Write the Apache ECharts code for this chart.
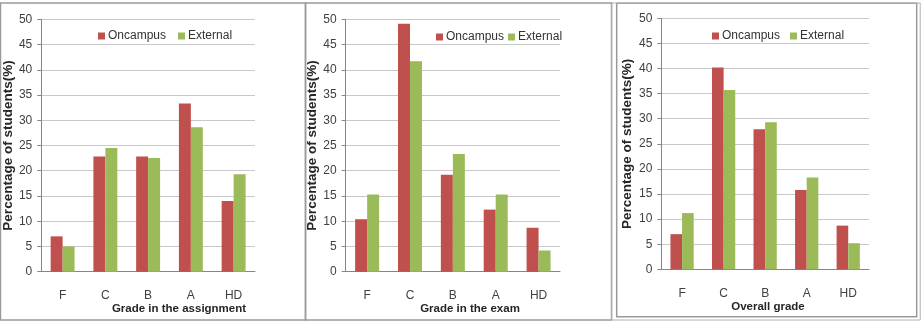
<!DOCTYPE html>
<html>
<head>
<meta charset="utf-8">
<script src="https://cdn.jsdelivr.net/npm/echarts@6/dist/echarts.min.js"></script>
<style>
    html, body { margin: 0; padding: 0; background: #fff; }
    #chart { width: 924px; height: 322px; }
</style>
</head>
<body>
<div id="chart"></div>
<script>
// categories and values
const categories = ['F', 'C', 'B', 'A', 'HD'];
const seriesNames = ['Oncampus', 'External'];
const assignOncampus = [7.0, 22.8, 22.8, 33.3, 14.0];
const assignExternal = [5.0, 24.5, 22.5, 28.6, 19.3];
const examOncampus = [10.4, 49.1, 19.2, 12.3, 8.7];
const examExternal = [15.3, 41.7, 23.3, 15.3, 4.2];
const overallOncampus = [7.0, 40.2, 27.9, 15.8, 8.7];
const overallExternal = [11.2, 35.7, 29.3, 18.3, 5.2];
const xTitles = ['Grade in the assignment', 'Grade in the exam', 'Overall grade'];
const yTitle = 'Percentage of students(%)';
const yMin = 0, yMax = 50, yStep = 5;

const red = '#c0504d';
const green = '#9bbb59';
const font = 'Liberation Sans, Arial, sans-serif';

// panel layout (plot areas)
const grids = [
    { left: 41, top: 19.3, width: 214, height: 252.4 },
    { left: 345.7, top: 19.3, width: 214.3, height: 252.4 },
    { left: 661.3, top: 18.3, width: 207.7, height: 251 }
];
const yNameGaps = [25, 22, 27];
const titlePos = [[174, 298], [465, 298], [763, 296]];
const legendPos = [[98, 30], [436, 31], [712, 30]];
const legendGaps = [12, 4, 10];

const chart = echarts.init(document.getElementById('chart'), null, { renderer: 'canvas' });

var xAxes = [], yAxes = [], legends = [], titles = [], series = [];
const data = [
    [assignOncampus, assignExternal],
    [examOncampus, examExternal],
    [overallOncampus, overallExternal]
];

for (let i = 0; i < 3; i++) {
    xAxes.push({
        type: 'category',
        gridIndex: i,
        data: categories,
        axisLine: { lineStyle: { color: '#868686', width: 1 } },
        axisTick: { show: false },
        axisLabel: { color: '#404040', fontSize: 12, fontFamily: font, margin: 18 }
    });
    yAxes.push({
        type: 'value',
        gridIndex: i,
        min: yMin,
        max: yMax,
        interval: yStep,
        name: yTitle,
        nameLocation: 'middle',
        nameGap: yNameGaps[i],
        nameTextStyle: { color: '#262626', fontSize: 13.5, fontWeight: 'bold', fontFamily: font },
        axisLine: { show: true, lineStyle: { color: '#868686', width: 1 } },
        axisTick: { show: true, length: 4, lineStyle: { color: '#868686' } },
        axisLabel: { color: '#404040', fontSize: 12, fontFamily: font, margin: 9 },
        splitLine: { lineStyle: { color: '#c8c8c8', width: 1 } }
    });
    legends.push({
        left: legendPos[i][0],
        top: legendPos[i][1],
        padding: 0,
        data: seriesNames,
        itemWidth: 7,
        itemHeight: 7,
        itemGap: legendGaps[i],
        icon: 'rect',
        textStyle: { color: '#333', fontSize: 12, fontFamily: font, padding: [0, 0, 0, -2] }
    });
    titles.push({
        text: xTitles[i],
        left: titlePos[i][0],
        top: titlePos[i][1],
        textAlign: 'center',
        textStyle: { color: '#262626', fontSize: 11.5, fontWeight: 'bold', fontFamily: font }
    });
    series.push({
        name: seriesNames[0],
        type: 'bar',
        xAxisIndex: i,
        yAxisIndex: i,
        data: data[i][0],
        itemStyle: { color: red },
        barGap: '0%',
        barCategoryGap: '44%'
    }, {
        name: seriesNames[1],
        type: 'bar',
        xAxisIndex: i,
        yAxisIndex: i,
        data: data[i][1],
        itemStyle: { color: green },
        barGap: '0%',
        barCategoryGap: '44%'
    });
}

var option = {
    animation: false,
    backgroundColor: '#fff',
    grid: grids,
    xAxis: xAxes,
    yAxis: yAxes,
    legend: legends,
    title: titles,
    series: series,
    // panel frames
    graphic: [
        { type: 'rect', shape: { x: 0.5, y: 3, width: 305, height: 317 }, style: { fill: null, stroke: '#9a9a9a', lineWidth: 1.5 } },
        { type: 'rect', shape: { x: 305.5, y: 3, width: 306, height: 317 }, style: { fill: null, stroke: '#9a9a9a', lineWidth: 1.5 } },
        { type: 'rect', shape: { x: 616.7, y: 3.3, width: 300, height: 313.4 }, style: { fill: null, stroke: '#9a9a9a', lineWidth: 1.5 } },
        { type: 'rect', shape: { x: 611.7, y: 3, width: 308.5, height: 317 }, style: { fill: null, stroke: '#b0b0b0', lineWidth: 1 } }
    ]
};

chart.setOption(option);
</script>
</body>
</html>
